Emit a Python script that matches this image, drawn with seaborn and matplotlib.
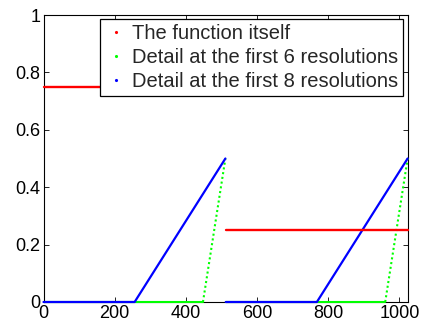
import numpy as np
import pandas as pd
import matplotlib
matplotlib.use("Agg")
import matplotlib.pyplot as plt
from matplotlib.lines import Line2D
import seaborn as sns

# ---- data (breakpoints) ----
labels = ["The function itself",
          "Detail at the first 6 resolutions",
          "Detail at the first 8 resolutions"]
colors = ["#ff0000", "#00ff00", "#0000ff"]

red_x = [0, 511, 512, 1023]
red_y = [0.75, 0.75, 0.25, 0.25]
red_piece = [0, 0, 1, 1]
red_kind = ["flat", "flat", "flat", "flat"]

green_x = [0, 448, 448, 511, 512, 960, 960, 1023]
green_y = [0.0, 0.0, 0.0, 0.5, 0.0, 0.0, 0.0, 0.5]
green_piece = [0, 0, 1, 1, 2, 2, 3, 3]
green_kind = ["flat", "flat", "ramp", "ramp", "flat", "flat", "ramp", "ramp"]

blue_x = [0, 256, 511, 512, 768, 1023]
blue_y = [0.0, 0.0, 0.5, 0.0, 0.0, 0.5]
blue_piece = [0, 0, 0, 1, 1, 1]
blue_kind = ["flat"] * 6

x_ticks = [0, 200, 400, 600, 800, 1000]
y_ticks = [0, 0.2, 0.4, 0.6, 0.8, 1]
y_tick_labels = ["0", "0.2", "0.4", "0.6", "0.8", "1"]

sns.set_style("ticks")
plt.rcParams["font.family"] = ["Liberation Sans", "DejaVu Sans"]

fig = plt.figure(figsize=(4.25, 3.3), dpi=100)
ax = fig.add_axes([43.5 / 425, 1 - 302 / 330, (408 - 43.5) / 425, (302 - 15) / 330])

def frame(xs, ys, piece, kind):
    return pd.DataFrame({"x": xs, "y": ys, "piece": piece, "kind": kind})

# draw order: green, blue, red (red on top)
g = frame(green_x, green_y, green_piece, green_kind)
sns.lineplot(data=g, x="x", y="y", units="piece", style="kind", estimator=None,
             sort=False, color=colors[1], dashes={"flat": "", "ramp": (1, 1.3)},
             linewidth=1.5, legend=False, ax=ax, clip_on=False, zorder=3)
b = frame(blue_x, blue_y, blue_piece, blue_kind)
sns.lineplot(data=b, x="x", y="y", units="piece", estimator=None, sort=False,
             color=colors[2], linewidth=1.6, legend=False, ax=ax, clip_on=False,
             zorder=4)
r = frame(red_x, red_y, red_piece, red_kind)
sns.lineplot(data=r, x="x", y="y", units="piece", estimator=None, sort=False,
             color=colors[0], linewidth=1.7, legend=False, ax=ax, clip_on=False,
             zorder=5)

ax.set_xlim(0, 1024)
ax.set_ylim(0, 1)
ax.set_xticks(x_ticks)
ax.set_xticklabels([str(t) for t in x_ticks])
ax.set_yticks(y_ticks)
ax.set_yticklabels(y_tick_labels)
ax.set_xlabel("")
ax.set_ylabel("")
for s in ax.spines.values():
    s.set_visible(True)
    s.set_linewidth(0.8)
    s.set_color("black")
    s.set_zorder(2)
ax.tick_params(direction="in", top=True, right=True, length=3.5, width=0.6,
               labelsize=13, colors="black", pad=2)

handles = [Line2D([], [], marker=".", ls="", color=c, markersize=2.5) for c in colors]
leg = fig.legend(handles, labels, loc="upper right",
                 bbox_to_anchor=(403 / 425, 1 - 19 / 330),
                 bbox_transform=fig.transFigure, borderaxespad=0,
                 fontsize=14.5, frameon=True, fancybox=False, shadow=False,
                 handlelength=1.1, handletextpad=0.25, labelspacing=0.25,
                 borderpad=0.25)
leg.set_zorder(10)
leg.get_frame().set_edgecolor("black")
leg.get_frame().set_linewidth(0.9)
leg.get_frame().set_alpha(1)

fig.savefig("out.png", dpi=100)
